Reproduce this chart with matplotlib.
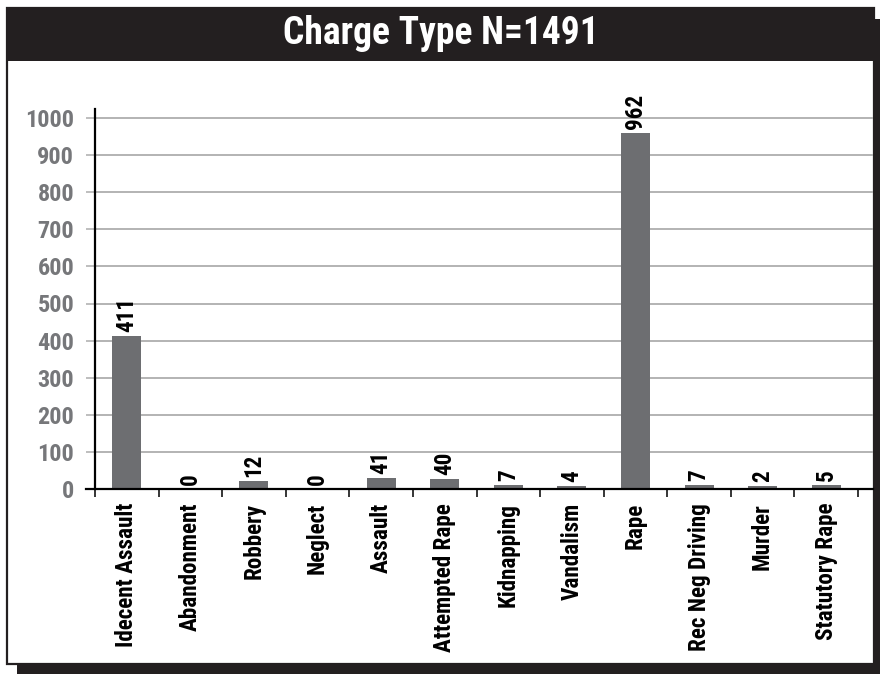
import matplotlib
matplotlib.use("Agg")
import matplotlib.pyplot as plt
from matplotlib import font_manager as fm
from matplotlib.patches import Rectangle
from matplotlib.lines import Line2D
import numpy as np

# ---------------- data ----------------
categories = ["Idecent Assault", "Abandonment", "Robbery", "Neglect", "Assault",
              "Attempted Rape", "Kidnapping", "Vandalism", "Rape",
              "Rec Neg Driving", "Murder", "Statutory Rape"]
# numbers printed above the bars
counts = [411, 0, 12, 0, 41, 40, 7, 4, 962, 7, 2, 5]
# bar lengths as drawn in the picture
bar_heights = [412, 0, 21, 0, 30, 27, 11, 8, 960, 11, 8, 11]
y_ticks = [0, 100, 200, 300, 400, 500, 600, 700, 800, 900, 1000]
title = "Charge Type N=1491"

# ---------------- fonts: prefer a condensed bold face ----------------
entries = fm.fontManager.ttflist
names = {f.name for f in entries}
FONT, STRETCH = "DejaVu Sans", "normal"
for cand in ["Roboto Condensed", "Liberation Sans Narrow", "Arial Narrow",
             "Open Sans Condensed", "Noto Sans Condensed"]:
    if cand in names:
        FONT, STRETCH = cand, "normal"
        break
else:
    for fam in ["Roboto", "Noto Sans", "DejaVu Sans", "Open Sans", "Liberation Sans"]:
        if any(f.name == fam and "condensed" in str(f.stretch) for f in entries):
            FONT, STRETCH = fam, "condensed"
            break
plt.rcParams["font.family"] = [FONT, "DejaVu Sans"]
plt.rcParams["font.weight"] = "bold"
plt.rcParams["font.stretch"] = STRETCH

W, H = 880, 674
DARK = "#231f20"
BAR = "#6d6e71"
TICKGRAY = "#76777a"
GRID = "#b3b3b3"

fig = plt.figure(figsize=(W / 100, H / 100), dpi=100)
fig.patch.set_facecolor("white")
renderer = fig.canvas.get_renderer()


def fit_size(text, target_px, base=20.0, maxsize=None):
    t = fig.text(0, 0, text, fontsize=base, fontweight="bold", fontstretch=STRETCH)
    w = t.get_window_extent(renderer).width
    t.remove()
    s = base * target_px / w
    return min(s, maxsize) if maxsize else s


TITLE_FS = fit_size(title, 323, maxsize=27)
CAT_FS = fit_size("Idecent Assault", 144, maxsize=17.5)
TICK_FS = fit_size("1000", 50, maxsize=17.5)
VAL_FS = fit_size("411", 35, maxsize=18.5)


def fx(x):
    return x / W


def fy(y):
    return 1 - y / H


def rect(x0, y0, x1, y1, **kw):
    r = Rectangle((fx(x0), fy(y1)), fx(x1) - fx(x0), fy(y0) - fy(y1),
                  transform=fig.transFigure, **kw)
    fig.patches.append(r)
    return r

# drop shadow, frame, title bar
rect(17, 19, 895, 690, facecolor=DARK, edgecolor="none", zorder=0)
rect(7, 8, 874, 664, facecolor="white", edgecolor=DARK, linewidth=1.6, zorder=1)
rect(6, 8, 874, 61, facecolor=DARK, edgecolor="none", zorder=2)
fig.text(fx(440.5), fy(34), title, color="white", fontsize=TITLE_FS,
         fontweight="bold", ha="center", va="center", zorder=3)

# ---------------- axes ----------------
ax_l, ax_r, ax_t, ax_b = 95, 873, 109, 489
ax = fig.add_axes([fx(ax_l), fy(ax_b), fx(ax_r) - fx(ax_l), fy(ax_t) - fy(ax_b)])
ax.set_facecolor("none")
ax.set_zorder(5)

n = len(categories)
x = np.arange(n)
cat_px = (858 - 95) / n
ax.set_xlim(-0.5, n - 0.5 + (ax_r - 858) / cat_px)
ax.set_ylim(0, 1000 + 9 / 0.371)

ax.bar(x, bar_heights, width=0.456, color=BAR, zorder=3)

for xi, h, c in zip(x, bar_heights, counts):
    ax.annotate(str(c), (xi, h), xytext=(0, 3), textcoords="offset points",
                rotation=90, ha="center", va="bottom", fontsize=VAL_FS,
                fontweight="bold", color="black", zorder=4)

# grid lines
ax.set_yticks(y_ticks)
ax.set_yticklabels([str(t) for t in y_ticks])
for t in y_ticks[1:]:
    ax.axhline(t, color=GRID, linewidth=1.4, zorder=1)
ax.tick_params(axis="y", direction="out", length=6.5, width=1.2, color=GRID,
               labelcolor=TICKGRAY, labelsize=TICK_FS, pad=8.5)
for lab in ax.get_yticklabels():
    lab.set_fontweight("bold")

# zero line extended to the left like the tick marks
x_left = -0.5 - 9 / cat_px
ax.add_line(Line2D([x_left, ax.get_xlim()[1]], [0, 0], color="black",
                   linewidth=1.6, clip_on=False, zorder=6))

# x ticks: marks at boundaries, labels at centres
ax.set_xticks(x)
ax.set_xticklabels(categories, rotation=90, fontsize=CAT_FS, fontweight="bold",
                   color="black")
ax.set_xticks(np.arange(-0.5, n, 1.0), minor=True)
ax.tick_params(axis="x", which="major", length=0, pad=10)
ax.tick_params(axis="x", which="minor", direction="out", length=5.8,
               width=1.1, color="black")

for s in ["top", "right", "bottom"]:
    ax.spines[s].set_visible(False)
ax.spines["left"].set_color("black")
ax.spines["left"].set_linewidth(1.6)
ax.spines["left"].set_zorder(6)

fig.savefig("out.png", dpi=100, facecolor="white")
